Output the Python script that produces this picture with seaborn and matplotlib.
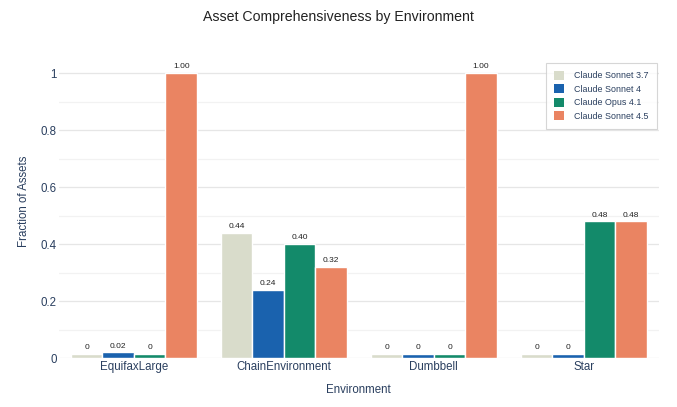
import matplotlib
matplotlib.use("Agg")
import matplotlib.pyplot as plt
import numpy as np
import pandas as pd
import seaborn as sns

environments = ["EquifaxLarge", "ChainEnvironment", "Dumbbell", "Star"]
models = ["Claude Sonnet 3.7", "Claude Sonnet 4", "Claude Opus 4.1", "Claude Sonnet 4.5"]
sonnet37 = [0.0, 0.44, 0.0, 0.0]
sonnet4 = [0.02, 0.24, 0.0, 0.0]
opus41 = [0.0, 0.40, 0.0, 0.48]
sonnet45 = [1.00, 0.32, 1.00, 0.48]
colors = ["#d9dccb", "#1a62ae", "#138a6a", "#ea8462"]

series = [sonnet37, sonnet4, opus41, sonnet45]
rows = []
for m, vals in zip(models, series):
    for env, v in zip(environments, vals):
        rows.append({"Environment": env, "Model": m, "value": v})
df = pd.DataFrame(rows)
# zero bars drawn as a thin sliver so they stay visible
df["shown"] = np.maximum(df["value"], 0.015)

sns.set_style("white")
plt.rcParams["font.family"] = ["Liberation Sans", "DejaVu Sans"]
txt = "#2a3f5f"

fig, ax = plt.subplots(figsize=(6.77, 4.07), dpi=100)
fig.subplots_adjust(left=0.0871, right=0.973, bottom=0.12, top=0.889)

ax.set_yticks(np.arange(0.1, 1.1, 0.2), minor=True)
ax.grid(axis="y", which="major", color="#e6e6e6", lw=0.9)
ax.grid(axis="y", which="minor", color="#f2f2f2", lw=0.9)
ax.set_axisbelow(True)

sns.barplot(data=df, x="Environment", y="shown", hue="Model", hue_order=models,
            palette=colors, width=0.84, edgecolor="white", linewidth=1.0,
            saturation=1, ax=ax)

for cont, vals in zip(ax.containers, series):
    labels = [f"{v:.2f}" if v > 0 else "0" for v in vals]
    ax.bar_label(cont, labels=labels, fontsize=6, padding=2, color="#222222")

ax.set_xlim(-0.5, 3.5)
ax.set_ylim(0, 1.098)
ax.set_yticks([0, 0.2, 0.4, 0.6, 0.8, 1.0])
ax.set_yticklabels(["0", "0.2", "0.4", "0.6", "0.8", "1"])
ax.tick_params(axis="both", length=0, colors=txt, labelsize=8.3)
ax.tick_params(axis="y", pad=1.5)
ax.tick_params(axis="x", pad=2)
for s in ax.spines.values():
    s.set_visible(False)

ax.set_xlabel("Environment", fontsize=8.3, color=txt, labelpad=8)
ax.set_ylabel("Fraction of Assets", fontsize=8.3, color=txt, labelpad=8)
fig.suptitle("Asset Comprehensiveness by Environment", fontsize=10.2, color="#222222", y=0.975)

leg = ax.legend(loc="upper right", bbox_to_anchor=(0.997, 0.943), fontsize=6.4,
                frameon=True, fancybox=False, edgecolor="#cccccc",
                handlelength=1.15, handleheight=1.15, borderpad=0.9,
                labelspacing=0.45, handletextpad=1.2, borderaxespad=0)
leg.get_frame().set_linewidth(0.8)
for h in leg.legend_handles:
    h.set_edgecolor("none")
for t in leg.get_texts():
    t.set_color(txt)

fig.savefig("out.png", dpi=100)
